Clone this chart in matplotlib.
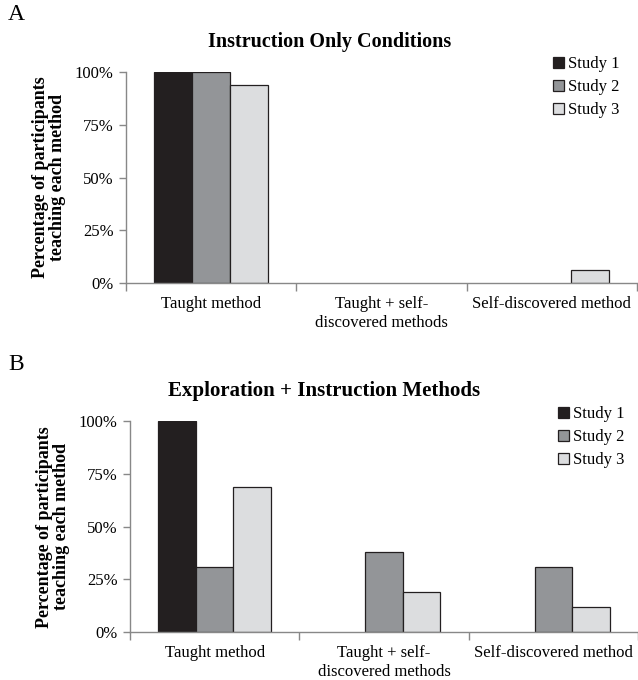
import matplotlib
matplotlib.use("Agg")
import matplotlib.pyplot as plt
import numpy as np

categories = ["Taught method", "Taught + self-\ndiscovered methods", "Self-discovered method"]
studies = ["Study 1", "Study 2", "Study 3"]
colors = ["#231f20", "#939598", "#dcdddf"]

a_study1 = [100, 0, 0]
a_study2 = [100, 0, 0]
a_study3 = [94, 0, 6]

b_study1 = [100, 0, 0]
b_study2 = [31, 38, 31]
b_study3 = [69, 19, 12]

yticks = [0, 25, 50, 75, 100]
ytick_labels = ["0%", "25%", "50%", "75%", "100%"]

plt.rcParams['font.family'] = ['Liberation Serif', 'DejaVu Serif']

W, H = 638, 680
fig = plt.figure(figsize=(W / 100, H / 100), dpi=100)


def panel(rect, series, title, title_x, title_size, letter, letter_y, title_y, leg_x, leg_y):
    ax = fig.add_axes(rect)
    x = np.arange(len(categories))
    w = 0.222
    for k, (vals, c, lab) in enumerate(zip(series, colors, studies)):
        edges = ["#231f20" if v > 0 else "none" for v in vals]
        ax.bar(x + (k - 1) * w, vals, width=w, color=c, edgecolor=edges,
               linewidth=0.9, label=lab)
    ax.set_xlim(-0.5, 2.5)
    ax.set_ylim(0, 100)
    ax.set_yticks(yticks)
    ax.set_yticklabels(ytick_labels, fontsize=12)
    ax.set_xticks(x)
    ax.set_xticklabels(categories, fontsize=12, linespacing=1.3)
    ax.set_xticks([-0.5, 0.5, 1.5, 2.5], minor=True)
    ax.tick_params(axis="x", which="major", length=0, pad=9)
    ax.tick_params(axis="x", which="minor", length=6, color="#888888", width=1)
    ax.tick_params(axis="y", length=5, color="#888888", width=1, pad=4)
    for s in ["top", "right"]:
        ax.spines[s].set_visible(False)
    for s in ["left", "bottom"]:
        ax.spines[s].set_color("#888888")
        ax.spines[s].set_linewidth(1)
    ax.set_ylabel("Percentage of participants\nteaching each method", fontsize=13,
                  fontweight="bold", linespacing=1.05, labelpad=6)
    fig.text(title_x / W, 1 - title_y / H, title, fontsize=title_size, fontweight="bold",
             ha="center", va="center")
    fig.text(8 / W, 1 - letter_y / H, letter, fontsize=17, ha="left", va="center")
    handles, labels = ax.get_legend_handles_labels()
    fig.legend(handles, labels, loc="upper left", bbox_to_anchor=(leg_x / W, 1 - leg_y / H),
               bbox_transform=fig.transFigure, frameon=False, fontsize=12,
               handlelength=0.65, handleheight=0.65, handletextpad=0.25,
               labelspacing=0.42, borderpad=0, borderaxespad=0)
    return ax


panel([126 / W, 1 - 283 / H, 511 / W, 211 / H], [a_study1, a_study2, a_study3],
      "Instruction Only Conditions", 330, 14.5, "A", 15, 42, 553, 56)
panel([130 / W, 1 - 632.3 / H, 508 / W, 211.3 / H], [b_study1, b_study2, b_study3],
      "Exploration + Instruction Methods", 324, 15, "B", 365, 391, 558, 406)

fig.savefig("out.png", dpi=100)
